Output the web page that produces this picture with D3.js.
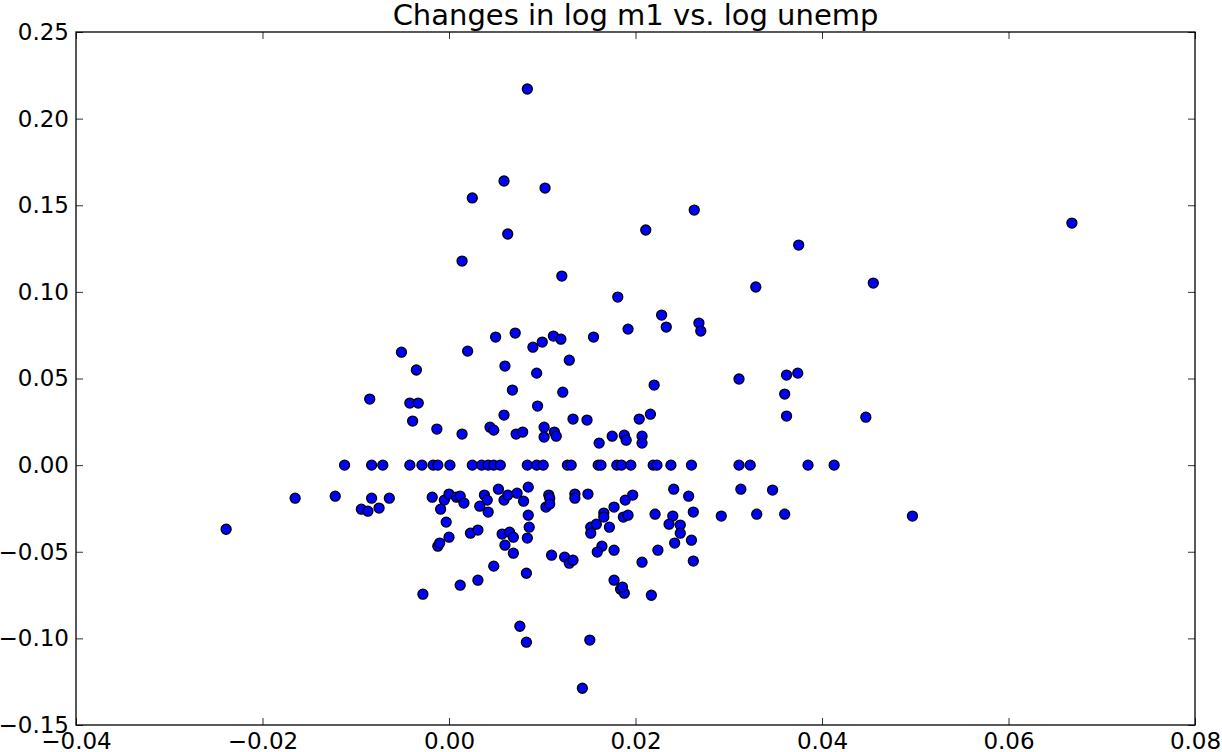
<!DOCTYPE html>
<html><head><meta charset="utf-8">
<script src="https://cdn.jsdelivr.net/npm/d3@7"></script>
<style>
html,body{margin:0;padding:0;background:#fff;}
text{font-family:"DejaVu Sans",sans-serif;fill:#000;}
</style></head>
<body>
<svg id="chart" width="1222" height="752"></svg>
<script>
const title = "Changes in log m1 vs. log unemp";
const xTicks = [-0.04, -0.02, 0.00, 0.02, 0.04, 0.06, 0.08];
const yTicks = [-0.15, -0.10, -0.05, 0.00, 0.05, 0.10, 0.15, 0.20, 0.25];
const xDomain = [-0.04, 0.08];
const yDomain = [-0.15, 0.25];

// change in log unemp (x)
const dUnemp = [
 0.0084,0.0059,0.0103,0.0025,0.0263,0.0211,0.0063,0.0014,0.0121,0.0181,
 0.0228,0.0233,0.0268,0.0270,0.0050,0.0071,0.0112,0.0120,0.0155,0.0100,
 0.0090,0.0192,0.0375,0.0329,0.0455,0.0668,-0.0051,0.0020,-0.0035,-0.0085,
 -0.0042,-0.0033,-0.0039,-0.0013,0.0014,0.0044,0.0048,0.0059,0.0060,0.0094,
 0.0129,0.0068,0.0122,0.0095,0.0133,0.0148,0.0220,0.0311,0.0362,0.0374,
 0.0360,0.0362,0.0072,0.0079,0.0102,0.0102,0.0113,0.0115,0.0161,0.0175,
 0.0188,0.0190,0.0204,0.0216,0.0207,0.0207,0.0447,
 // zero row
 -0.0112,-0.0083,-0.0071,-0.0042,-0.0029,-0.0017,-0.0012,0.0001,0.0025,0.0035,
 0.0042,0.0048,0.0055,0.0084,0.0094,0.0101,0.0127,0.0131,0.0160,0.0163,
 0.0180,0.0185,0.0195,0.0219,0.0223,0.0238,0.0260,0.0311,0.0323,0.0385,0.0413,
 // below zero
 -0.0165,-0.0122,-0.0083,-0.0064,-0.0094,-0.0087,-0.0075,-0.0018,-0.0005,0.0000,
 0.0008,0.0012,0.0016,-0.0009,-0.0003,0.0038,0.0041,0.0033,0.0042,0.0053,
 0.0059,-0.0239,-0.0012,-0.0010,0.0000,0.0023,0.0031,0.0057,0.0060,0.0048,
 -0.0028,0.0012,0.0031,0.0085,0.0063,0.0073,0.0080,0.0107,0.0108,0.0104,
 0.0108,0.0135,0.0135,0.0149,0.0085,0.0086,0.0065,0.0241,0.0257,0.0197,
 0.0189,0.0177,0.0166,0.0166,0.0187,0.0192,0.0221,0.0240,0.0262,0.0236,
 0.0248,0.0292,0.0330,0.0360,0.0313,0.0347,0.0152,0.0158,0.0172,0.0497,
 0.0069,0.0069,0.0084,0.0083,0.0110,0.0124,0.0129,0.0133,0.0152,0.0164,
 0.0159,0.0177,0.0177,0.0184,0.0188,0.0186,0.0207,0.0217,0.0224,0.0248,
 0.0242,0.0260,0.0262,0.0076,0.0083,0.0151,0.0143
];
// change in log m1 (y)
const dM1 = [
 0.2171,0.1640,0.1599,0.1542,0.1472,0.1357,0.1334,0.1178,0.1091,0.0970,
 0.0866,0.0797,0.0820,0.0774,0.0739,0.0762,0.0745,0.0727,0.0739,0.0710,
 0.0681,0.0785,0.1270,0.1028,0.1051,0.1397,0.0652,0.0658,0.0549,0.0381,
 0.0358,0.0358,0.0254,0.0208,0.0179,0.0219,0.0202,0.0289,0.0572,0.0531,
 0.0606,0.0433,0.0421,0.0341,0.0266,0.0260,0.0462,0.0497,0.0520,0.0531,
 0.0410,0.0283,0.0179,0.0191,0.0219,0.0162,0.0191,0.0167,0.0127,0.0167,
 0.0173,0.0144,0.0266,0.0294,0.0167,0.0127,0.0277,
 // zero row
 0,0,0,0,0,0,0,0,0,0,
 0,0,0,0,0,0,0,0,0,0,
 0,0,0,0,0,0,0,0,0,0,0,
 // below zero
 -0.0191,-0.0179,-0.0191,-0.0191,-0.0254,-0.0266,-0.0248,-0.0185,-0.0202,-0.0167,
 -0.0185,-0.0179,-0.0219,-0.0254,-0.0329,-0.0173,-0.0202,-0.0237,-0.0271,-0.0139,
 -0.0202,-0.0370,-0.0468,-0.0450,-0.0416,-0.0393,-0.0375,-0.0398,-0.0462,-0.0583,
 -0.0745,-0.0693,-0.0664,-0.0127,-0.0173,-0.0162,-0.0208,-0.0173,-0.0191,-0.0242,
 -0.0225,-0.0167,-0.0191,-0.0167,-0.0289,-0.0358,-0.0387,-0.0139,-0.0179,-0.0173,
 -0.0202,-0.0242,-0.0277,-0.0300,-0.0300,-0.0289,-0.0283,-0.0294,-0.0271,-0.0341,
 -0.0346,-0.0294,-0.0283,-0.0283,-0.0139,-0.0144,-0.0358,-0.0341,-0.0358,-0.0294,
 -0.0416,-0.0508,-0.0421,-0.0624,-0.0520,-0.0531,-0.0566,-0.0549,-0.0393,-0.0468,
 -0.0502,-0.0491,-0.0664,-0.0716,-0.0739,-0.0704,-0.0560,-0.0751,-0.0491,-0.0393,
 -0.0450,-0.0433,-0.0554,-0.0930,-0.1022,-0.1010,-0.1288
];

const points = dUnemp.map((x, i) => ({x, y: dM1[i]}));

const svg = d3.select("#chart");
const L = 76, T = 32, R = 1195, B = 725;
const x = d3.scaleLinear().domain(xDomain).range([L, R]);
const y = d3.scaleLinear().domain(yDomain).range([B, T]);
const fmt = d => (d < 0 ? "\u2212" : "") + Math.abs(d).toFixed(2);

const tickLen = 7;
const tickColor = "#333";

// points (clipped to plot area)
svg.append("clipPath").attr("id", "clip").append("rect")
  .attr("x", L).attr("y", T).attr("width", R - L).attr("height", B - T);
svg.append("g").attr("clip-path", "url(#clip)")
  .selectAll("circle").data(points).enter().append("circle")
  .attr("cx", d => x(d.x)).attr("cy", d => y(d.y)).attr("r", 5)
  .attr("fill", "#0000ff").attr("stroke", "#000").attr("stroke-width", 1.3);

// axes (ticks pointing inward, on all four sides)
const xb = svg.append("g").attr("transform", `translate(0,${B})`)
  .call(d3.axisBottom(x).tickValues(xTicks).tickFormat(fmt).tickSizeInner(-tickLen).tickSizeOuter(0).tickPadding(8));
const xt = svg.append("g").attr("transform", `translate(0,${T})`)
  .call(d3.axisTop(x).tickValues(xTicks).tickFormat("").tickSizeInner(-tickLen).tickSizeOuter(0));
const yl = svg.append("g").attr("transform", `translate(${L},0)`)
  .call(d3.axisLeft(y).tickValues(yTicks).tickFormat(fmt).tickSizeInner(-tickLen).tickSizeOuter(0).tickPadding(7));
const yr = svg.append("g").attr("transform", `translate(${R},0)`)
  .call(d3.axisRight(y).tickValues(yTicks).tickFormat("").tickSizeInner(-tickLen).tickSizeOuter(0));

[xb, xt, yl, yr].forEach(g => {
  g.select(".domain").remove();
  g.selectAll(".tick line").attr("stroke", tickColor).attr("stroke-width", 1);
  g.selectAll(".tick text").style("font-family", "DejaVu Sans").style("font-size", "23px").attr("fill", "#000");
});
xb.selectAll(".tick text").attr("dy", "0.71em");

// frame
svg.append("rect").attr("x", L).attr("y", T).attr("width", R - L).attr("height", B - T)
  .attr("fill", "none").attr("stroke", "#000").attr("stroke-width", 1.3);

svg.append("text").attr("x", (L + R) / 2).attr("y", 25).attr("text-anchor", "middle")
  .style("font-size", "29px").text(title);
</script>
</body></html>
